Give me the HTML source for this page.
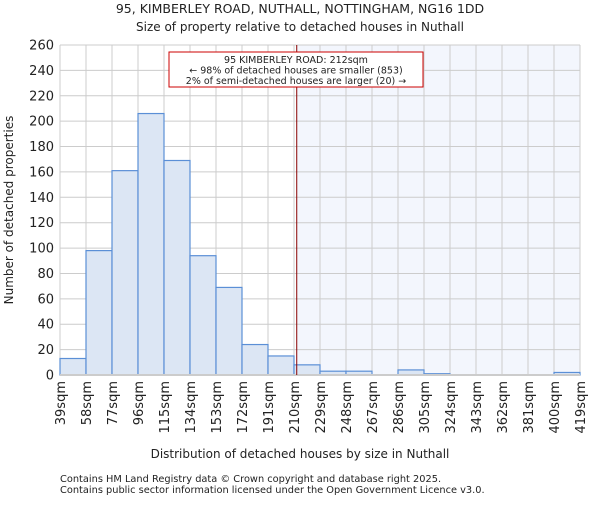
<!DOCTYPE html>
<html><head><meta charset="utf-8"><style>
body{margin:0;background:#fff;font-family:"Liberation Sans","DejaVu Sans",sans-serif}
svg text{font-family:"DejaVu Sans","Liberation Sans",sans-serif;fill:#222}
</style></head><body>
<svg id="c" width="600" height="500" viewBox="0 0 600 500">
<text x="300" y="13" font-size="12.5" text-anchor="middle">95, KIMBERLEY ROAD, NUTHALL, NOTTINGHAM, NG16 1DD</text>
<text x="300" y="31" font-size="12" text-anchor="middle">Size of property relative to detached houses in Nuthall</text>
<g id="plot"></g>
<text x="300" y="458" font-size="12" text-anchor="middle">Distribution of detached houses by size in Nuthall</text>
<text transform="translate(13,210) rotate(-90)" font-size="12" text-anchor="middle">Number of detached properties</text>
<text x="60" y="482" font-size="9.8">Contains HM Land Registry data © Crown copyright and database right 2025.</text>
<text x="60" y="493" font-size="9.8">Contains public sector information licensed under the Open Government Licence v3.0.</text>
</svg>
<script>
const binStarts=[39,58,77,96,115,134,153,172,191,210,229,248,267,286,305,324,343,362,381,400];
const counts=[13,98,161,206,169,94,69,24,15,8,3,3,0,4,1,0,0,0,0,2];
const yTicks=[0,20,40,60,80,100,120,140,160,180,200,220,240,260];
const xTickLabels=["39sqm","58sqm","77sqm","96sqm","115sqm","134sqm","153sqm","172sqm","191sqm","210sqm","229sqm","248sqm","267sqm","286sqm","305sqm","324sqm","343sqm","362sqm","381sqm","400sqm","419sqm"];
const markerValue=212;
const NS="http://www.w3.org/2000/svg";
const L=60,R=580,T=45,B=375,xMin=39,xMax=419,yMax=260;
const xs=v=>L+(v-xMin)/(xMax-xMin)*(R-L);
const ys=v=>B-v/yMax*(B-T);
const g=document.getElementById('plot');
function mk(t,a){const e=document.createElementNS(NS,t);for(const k in a)e.setAttribute(k,a[k]);g.appendChild(e);return e;}
let e;
e=mk('rect',{x:xs(markerValue),y:T,width:R-xs(markerValue),height:B-T,fill:'#f3f6fd'});


yTicks.forEach(v=>{e=mk('line',{x1:L,x2:R,y1:ys(v),y2:ys(v),stroke:'#cccccc','stroke-width':1});

});
xTickLabels.forEach((s,i)=>{const v=xMin+i*19;e=mk('line',{x1:xs(v),x2:xs(v),y1:T,y2:B,stroke:'#cccccc','stroke-width':1});

});
binStarts.forEach((s,i)=>{const x0=xs(s),x1=xs(s+19);
e=mk('rect',{x:x0,y:ys(counts[i]),width:x1-x0,height:B-ys(counts[i]),fill:'#dce6f4',stroke:'#5b8fd6','stroke-width':1.2});

});
e=mk('line',{x1:L,x2:R,y1:B,y2:B,stroke:'#cccccc','stroke-width':2});


yTicks.forEach(v=>{e=mk('text',{x:L-6,y:ys(v)+4.5,'font-size':13,'text-anchor':'end'});e.textContent=v;

});
xTickLabels.forEach((s,i)=>{const x=xs(xMin+i*19);e=mk('text',{transform:`translate(${x+5},381) rotate(-90)`,'font-size':13,'text-anchor':'end'});e.textContent=s;

});
e=mk('line',{x1:xs(markerValue),x2:xs(markerValue),y1:T,y2:B,stroke:'#880000','stroke-width':1});


e=mk('rect',{x:169,y:52,width:254,height:35,fill:'#fff',stroke:'#cc0000','stroke-width':1});


["95 KIMBERLEY ROAD: 212sqm","← 98% of detached houses are smaller (853)","2% of semi-detached houses are larger (20) →"].forEach((s,i)=>{
e=mk('text',{x:296,y:63+i*10.5,'font-size':9.5,'text-anchor':'middle'});e.textContent=s;

});
</script>
</body></html>
